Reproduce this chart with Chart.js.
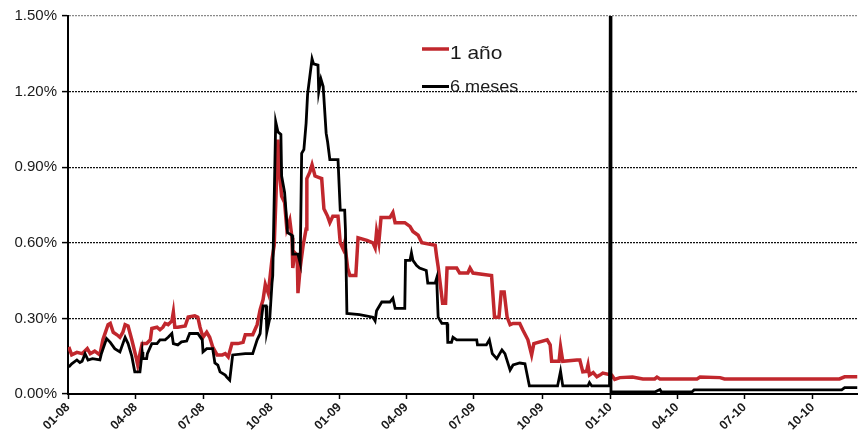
<!DOCTYPE html>
<html>
<head>
<meta charset="utf-8">
<script src="https://cdn.jsdelivr.net/npm/chart.js@4.4.1/dist/chart.umd.min.js"></script>
<style>
  html, body { margin: 0; padding: 0; background: #fff; }
  #c { display: block; }
</style>
</head>
<body>
<canvas id="c" width="858" height="437"></canvas>
<script>
// Diferencial de tasas (%), series diarias muestreadas en cada cambio de nivel
const fechas1A = [
  '2008-01-02','2008-01-06','2008-01-13','2008-01-20','2008-01-27','2008-01-31','2008-02-06','2008-02-13',
  '2008-02-17','2008-02-24','2008-02-27','2008-03-02','2008-03-07','2008-03-11','2008-03-15','2008-03-18',
  '2008-03-22','2008-03-27','2008-04-02','2008-04-04','2008-04-07','2008-04-10','2008-04-16','2008-04-21',
  '2008-04-23','2008-04-30','2008-05-04','2008-05-08','2008-05-11','2008-05-15','2008-05-20','2008-05-22',
  '2008-05-24','2008-05-28','2008-06-07','2008-06-11','2008-06-20','2008-06-24','2008-06-27','2008-07-01',
  '2008-07-06','2008-07-10','2008-07-14','2008-07-20','2008-07-27','2008-07-31','2008-08-04','2008-08-09',
  '2008-08-17','2008-08-24','2008-08-27','2008-09-06','2008-09-12','2008-09-16','2008-09-20','2008-09-23',
  '2008-09-27','2008-10-02','2008-10-05','2008-10-07','2008-10-10','2008-10-13','2008-10-15','2008-10-19',
  '2008-10-22','2008-10-26','2008-10-29','2008-10-30','2008-11-02','2008-11-05','2008-11-06','2008-11-09',
  '2008-11-13','2008-11-17','2008-11-18','2008-11-22','2008-11-25','2008-11-29','2008-12-08','2008-12-11',
  '2008-12-16','2008-12-19','2008-12-23','2008-12-30','2009-01-02','2009-01-06','2009-01-08','2009-01-12',
  '2009-01-15','2009-01-23','2009-01-26','2009-02-07','2009-02-15','2009-02-18','2009-02-20','2009-02-23',
  '2009-02-26','2009-03-10','2009-03-14','2009-03-17','2009-03-30','2009-04-06','2009-04-10','2009-04-17',
  '2009-04-22','2009-05-10','2009-05-12','2009-05-14','2009-05-19','2009-05-20','2009-05-24','2009-05-26',
  '2009-06-08','2009-06-12','2009-06-23','2009-06-26','2009-06-30','2009-07-25','2009-07-29','2009-08-04',
  '2009-08-07','2009-08-11','2009-08-15','2009-08-19','2009-08-23','2009-09-01','2009-09-05','2009-09-12',
  '2009-09-17','2009-09-20','2009-10-08','2009-10-12','2009-10-14','2009-10-24','2009-10-26','2009-10-29',
  '2009-11-17','2009-11-21','2009-11-25','2009-11-30','2009-12-02','2009-12-04','2009-12-09','2009-12-14',
  '2009-12-18','2009-12-22','2010-01-03','2010-01-07','2010-01-14','2010-01-31','2010-02-14','2010-03-02',
  '2010-03-05','2010-03-09','2010-04-28','2010-05-02','2010-05-29','2010-06-04','2010-11-06','2010-11-13',
  '2010-11-30'
];
const tasa1A = [
  0.187,0.155,0.165,0.160,0.180,0.160,0.170,0.155,
  0.215,0.275,0.280,0.245,0.235,0.225,0.245,0.275,
  0.270,0.215,0.143,0.115,0.160,0.200,0.200,0.215,
  0.260,0.265,0.255,0.265,0.280,0.275,0.290,0.325,
  0.265,0.265,0.270,0.305,0.310,0.305,0.265,0.225,
  0.245,0.225,0.187,0.155,0.155,0.160,0.147,0.200,
  0.200,0.205,0.235,0.235,0.275,0.335,0.375,0.435,
  0.400,0.535,0.590,0.750,1.010,0.850,0.785,0.760,
  0.655,0.690,0.620,0.500,0.560,0.550,0.400,0.500,
  0.590,0.655,0.855,0.880,0.910,0.865,0.855,0.735,
  0.705,0.680,0.705,0.705,0.600,0.575,0.600,0.500,
  0.470,0.470,0.620,0.610,0.600,0.580,0.645,0.600,
  0.700,0.700,0.720,0.680,0.680,0.665,0.645,0.630,
  0.600,0.590,0.545,0.505,0.385,0.360,0.360,0.500,
  0.500,0.480,0.480,0.500,0.480,0.470,0.305,0.305,
  0.405,0.405,0.305,0.275,0.280,0.280,0.255,0.215,
  0.155,0.200,0.215,0.195,0.130,0.130,0.187,0.130,
  0.135,0.135,0.088,0.090,0.115,0.075,0.085,0.068,
  0.075,0.083,0.075,0.058,0.065,0.067,0.060,0.060,
  0.067,0.060,0.060,0.067,0.065,0.060,0.060,0.068,
  0.068
];

const fechas6M = [
  '2008-01-02','2008-01-06','2008-01-13','2008-01-17','2008-01-20','2008-01-24','2008-01-28','2008-02-03',
  '2008-02-13','2008-02-15','2008-02-22','2008-02-27','2008-03-04','2008-03-11','2008-03-18','2008-03-22',
  '2008-03-27','2008-03-31','2008-04-07','2008-04-10','2008-04-11','2008-04-16','2008-04-17','2008-04-23',
  '2008-04-30','2008-05-04','2008-05-11','2008-05-15','2008-05-20','2008-05-22','2008-05-28','2008-06-02',
  '2008-06-09','2008-06-13','2008-06-24','2008-06-30','2008-07-01','2008-07-06','2008-07-14','2008-07-17',
  '2008-07-21','2008-07-24','2008-07-31','2008-08-02','2008-08-06','2008-08-10','2008-08-27','2008-09-06',
  '2008-09-12','2008-09-16','2008-09-18','2008-09-20','2008-09-24','2008-09-25','2008-09-29','2008-10-02',
  '2008-10-03','2008-10-07','2008-10-10','2008-10-14','2008-10-15','2008-10-19','2008-10-23','2008-10-29',
  '2008-10-30','2008-11-06','2008-11-09','2008-11-11','2008-11-14','2008-11-17','2008-11-19','2008-11-25',
  '2008-11-27','2008-12-03','2008-12-04','2008-12-07','2008-12-10','2008-12-14','2008-12-16','2008-12-19',
  '2008-12-30','2009-01-02','2009-01-08','2009-01-09','2009-01-11','2009-01-28','2009-02-15','2009-02-18',
  '2009-02-20','2009-02-27','2009-03-10','2009-03-14','2009-03-17','2009-03-30','2009-03-31','2009-04-06',
  '2009-04-08','2009-04-10','2009-04-15','2009-04-19','2009-04-28','2009-04-30','2009-05-10','2009-05-12',
  '2009-05-14','2009-05-19','2009-05-26','2009-05-27','2009-06-01','2009-06-03','2009-06-08','2009-07-05',
  '2009-07-06','2009-07-18','2009-07-22','2009-07-26','2009-08-01','2009-08-08','2009-08-12','2009-08-19',
  '2009-08-23','2009-09-01','2009-09-08','2009-09-14','2009-10-22','2009-10-26','2009-10-29','2009-12-02',
  '2009-12-04','2009-12-07','2009-12-31','2010-01-01','2010-01-02','2010-03-02','2010-03-09','2010-03-11',
  '2010-04-21','2010-04-24','2010-11-09','2010-11-13','2010-11-30'
];
const tasa6M = [
  0.107,0.120,0.135,0.125,0.130,0.160,0.135,0.140,
  0.135,0.160,0.220,0.205,0.180,0.167,0.225,0.200,
  0.150,0.088,0.088,0.167,0.140,0.140,0.160,0.200,
  0.200,0.215,0.215,0.225,0.240,0.200,0.195,0.207,
  0.210,0.240,0.240,0.215,0.167,0.180,0.180,0.123,
  0.115,0.088,0.075,0.067,0.055,0.155,0.160,0.160,
  0.215,0.240,0.305,0.350,0.350,0.245,0.300,0.440,
  0.470,1.080,1.040,1.030,0.865,0.800,0.640,0.630,
  0.555,0.555,0.520,0.955,0.970,1.075,1.190,1.330,
  1.310,1.305,1.200,1.250,1.220,1.035,1.000,0.930,
  0.930,0.730,0.730,0.655,0.320,0.315,0.305,0.290,
  0.330,0.365,0.365,0.380,0.340,0.340,0.530,0.530,
  0.560,0.530,0.510,0.500,0.490,0.440,0.440,0.460,
  0.305,0.280,0.280,0.205,0.205,0.225,0.215,0.215,
  0.195,0.195,0.215,0.160,0.140,0.175,0.160,0.095,
  0.115,0.123,0.120,0.032,0.032,0.090,0.032,0.032,
  0.045,0.032,0.032,1.500,0.008,0.008,0.018,0.008,
  0.008,0.016,0.016,0.025,0.025
];

// Eje temporal: inicio de cada trimestre y rango mostrado
const inicioTrimestres = [
  '2008-01-01','2008-04-01','2008-07-01','2008-10-01',
  '2009-01-01','2009-04-01','2009-07-01','2009-10-01',
  '2010-01-01','2010-04-01','2010-07-01','2010-10-01'
];
const ticksY = [0, 0.3, 0.6, 0.9, 1.2, 1.5];
const inicioEje = '2008-01-01';
const finEje = '2010-12-01';

const DIA_MS = 86400000;
const t0 = Date.parse(inicioEje + 'T00:00:00Z');
const dia = s => (Date.parse(s + 'T00:00:00Z') - t0) / DIA_MS;
const etiquetaMes = s => s.slice(5, 7) + '-' + s.slice(2, 4);
const diasTrim = inicioTrimestres.map(dia);

const serie = (fechas, tasas) => fechas.map((f, i) => ({ x: dia(f), y: tasas[i] }));

const ROJO = '#C1272D';
const NEGRO = '#000000';
const FUENTE = '"Liberation Sans", Arial, sans-serif';

// Leyenda dibujada dentro del área del gráfico (texto algo ensanchado)
const leyenda = {
  id: 'leyenda',
  afterDatasetsDraw(chart) {
    const { ctx, chartArea } = chart;
    const x0 = chartArea.left + 354;
    const items = [
      { ds: 0, yLinea: chartArea.top + 33, yTexto: chartArea.top + 42.5, size: 18.5, lw: 3.5 },
      { ds: 1, yLinea: chartArea.top + 70.5, yTexto: chartArea.top + 75.5, size: 16, lw: 3 }
    ];
    ctx.save();
    items.forEach(it => {
      const d = chart.data.datasets[it.ds];
      ctx.strokeStyle = d.borderColor;
      ctx.lineWidth = it.lw;
      ctx.beginPath();
      ctx.moveTo(x0, it.yLinea);
      ctx.lineTo(x0 + 27, it.yLinea);
      ctx.stroke();
      ctx.save();
      ctx.translate(x0 + 28, it.yTexto);
      ctx.scale(1.13, 1);
      ctx.fillStyle = '#1a1a1a';
      ctx.font = it.size + 'px ' + FUENTE;
      ctx.textBaseline = 'alphabetic';
      ctx.textAlign = 'left';
      ctx.fillText(d.label, 0, 0);
      ctx.restore();
    });
    ctx.restore();
  }
};

new Chart(document.getElementById('c'), {
  type: 'line',
  data: {
    datasets: [
      {
        label: '1 año',
        data: serie(fechas1A, tasa1A),
        borderColor: ROJO,
        borderWidth: 3.5,
        pointRadius: 0,
        tension: 0,
        order: 1
      },
      {
        label: '6 meses',
        data: serie(fechas6M, tasa6M),
        borderColor: NEGRO,
        borderWidth: 2.8,
        pointRadius: 0,
        tension: 0,
        order: 0
      }
    ]
  },
  options: {
    responsive: false,
    devicePixelRatio: 1,
    animation: false,
    layout: { padding: { top: 16, right: 0, bottom: 0, left: 0 } },
    plugins: {
      legend: { display: false },
      tooltip: { enabled: false }
    },
    scales: {
      x: {
        type: 'linear',
        min: 0,
        max: dia(finEje),
        afterBuildTicks: s => { s.ticks = diasTrim.map(v => ({ value: v })); },
        afterFit: s => { s.height = 43; },
        ticks: {
          autoSkip: false,
          minRotation: 45,
          maxRotation: 45,
          padding: 1,
          color: '#1a1a1a',
          font: { family: FUENTE, size: 12.5, weight: 'bold' },
          callback: v => {
            const i = diasTrim.indexOf(v);
            return i >= 0 ? etiquetaMes(inicioTrimestres[i]) : '';
          }
        },
        grid: {
          drawOnChartArea: false,
          drawTicks: true,
          tickLength: 5,
          tickColor: '#000',
          tickWidth: 1.5
        },
        border: { color: '#000', width: 2 }
      },
      y: {
        min: 0,
        max: 1.5,
        afterBuildTicks: s => { s.ticks = ticksY.map(v => ({ value: v })); },
        afterFit: s => { s.width = 68; },
        ticks: {
          padding: 5,
          color: '#1a1a1a',
          font: { family: FUENTE, size: 15 },
          callback: v => v.toFixed(2) + '%'
        },
        grid: {
          color: c => (c.tick && c.tick.value === 1.5) ? '#8a8a8a' : '#111',
          lineWidth: 1.2,
          drawTicks: true,
          tickLength: 6,
          tickColor: '#000',
          tickWidth: 1.5,
          tickBorderDash: []
        },
        border: { color: '#000', width: 2, dash: [2, 1] }
      }
    }
  },
  plugins: [leyenda]
});
</script>
</body>
</html>
